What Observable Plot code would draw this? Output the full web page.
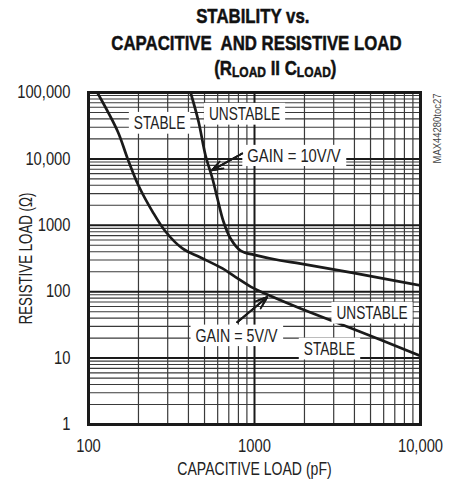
<!DOCTYPE html>
<html><head><meta charset="utf-8">
<script src="https://cdn.jsdelivr.net/npm/d3@7"></script>
<script src="https://cdn.jsdelivr.net/npm/@observablehq/plot@0.6"></script>
<style>
body{margin:0;background:#fff;}
#wrap{width:457px;background:#fff;}
#title{position:relative;height:80px;font-family:"Liberation Sans",Arial,sans-serif;font-weight:bold;font-size:21px;color:#111;-webkit-text-stroke:0.5px #111;}
#title div{position:absolute;width:457px;text-align:center;white-space:pre;line-height:1;}
#title div span.l{display:inline-block;transform:scaleX(0.8);transform-origin:center;}
#title .s{font-size:15px;position:relative;top:2px;}
</style></head><body>
<div id="wrap">
<div id="title">
<div style="top:5px;left:24px"><span class="l">STABILITY vs.</span></div>
<div style="top:32px;left:28px"><span class="l">CAPACITIVE  AND RESISTIVE LOAD</span></div>
<div style="top:57px;left:47px"><span class="l">(R<span class="s">LOAD</span> II C<span class="s">LOAD</span>)</span></div>
</div>
<div id="chart"></div>
</div>
<script>
// ---- data ----
const gain5Capacitance = [113, 150, 172, 200, 243, 291, 368, 470, 641, 747, 986, 1192, 1893, 4000, 10000];
const gain5Resistance  = [100000, 25900, 10100, 3980, 1610, 807, 448, 330, 224, 175, 113, 91, 56, 27, 10.8];
const gain10Capacitance = [412, 460, 507, 558, 598, 650, 717, 823, 1042, 1434, 1893, 4000, 10000];
const gain10Resistance  = [100000, 36600, 11250, 5070, 2530, 1140, 632, 417, 350, 295, 265, 190, 124];

const labelText = ["STABLE", "UNSTABLE", "GAIN = 10V/V", "UNSTABLE", "GAIN = 5V/V", "STABLE"];
const labelCapacitance = [268, 871, 1730, 5105, 779, 2830];
const labelResistance = [34700, 47450, 11250, 47.8, 21.9, 13.8];

const arrowFromC = [843, 787];
const arrowFromR = [12070, 34.7];
const arrowToC = [556, 1192];
const arrowToR = [6760, 82.7];

const xTicks = [100, 1000, 10000];
const xTickLabels = ["100", "1000", "10,000"];
const yTicks = [1, 10, 100, 1000, 10000, 100000];
const yTickLabels = ["1", "10", "100", "1000", "10,000", "100,000"];

const xTitle = "CAPACITIVE LOAD (pF)";
const yTitle = "RESISTIVE LOAD (Ω)";
const codeText = "MAX44280toc27";

// ---- tables ----
const gain5 = gain5Capacitance.map((c, i) => ({c, r: gain5Resistance[i]}));
const gain10 = gain10Capacitance.map((c, i) => ({c, r: gain10Resistance[i]}));
const labels = labelText.map((t, i) => ({t, c: labelCapacitance[i], r: labelResistance[i]}));
const arrows = arrowFromC.map((c, i) => ({c1: c, r1: arrowFromR[i], c2: arrowToC[i], r2: arrowToR[i]}));

// grid positions (log minor lines)
const mult = [2, 3, 4, 5, 6, 7, 8, 9];
const xMinor = [100, 1000].flatMap(d => mult.map(m => d * m));
const yMinor = [1, 10, 100, 1000, 10000].flatMap(d => mult.map(m => d * m));

const font = "'Liberation Sans',Arial,sans-serif";
const ink = "#1a1a1a";

const arrowOpts = {x1: "c1", y1: "r1", x2: "c2", y2: "r2", stroke: ink, strokeWidth: 1.8, headAngle: 40};

const svg = Plot.plot({
  width: 457, height: 406,
  marginTop: 12, marginBottom: 62, marginLeft: 88, marginRight: 37,
  style: {fontFamily: font, fontSize: "18px", color: "#222", background: "white", overflow: "visible"},
  x: {type: "log", domain: [100, 10000], label: null},
  y: {type: "log", domain: [1, 100000], label: null},
  marks: [
    Plot.ruleX(xMinor, {stroke: "#3a3a3a", strokeWidth: 1.2}),
    Plot.ruleY(yMinor, {stroke: "#3a3a3a", strokeWidth: 1.1}),
    Plot.ruleX(xTicks, {stroke: ink, strokeWidth: 2}),
    Plot.ruleY(yTicks, {stroke: ink, strokeWidth: 2}),
    Plot.line(gain5, {x: "c", y: "r", curve: "catmull-rom", stroke: ink, strokeWidth: 2.7, clip: true}),
    Plot.line(gain10, {x: "c", y: "r", curve: "catmull-rom", stroke: ink, strokeWidth: 2.7, clip: true}),
    Plot.text(labels, {x: "c", y: "r", text: "t", fontSize: 19, fill: "#222"}),
    Plot.arrow(arrows, {...arrowOpts, headLength: 11}),
    Plot.arrow(arrows, {...arrowOpts, headLength: 8}),
    Plot.arrow(arrows, {...arrowOpts, headLength: 5}),
    Plot.frame({stroke: ink, strokeWidth: 3}),
    Plot.axisX({ticks: xTicks, tickFormat: d => xTickLabels[xTicks.indexOf(d)], tickSize: 0, tickPadding: 15, fontSize: 18, fill: "#222"}),
    Plot.axisY({ticks: yTicks, tickFormat: d => yTickLabels[yTicks.indexOf(d)], tickSize: 0, tickPadding: 18, fontSize: 18, fill: "#222"}),
    Plot.text([xTitle], {text: d => d, frameAnchor: "bottom", dy: 50, fontSize: 19, fill: "#222"}),
    Plot.text([yTitle], {text: d => d, frameAnchor: "left", textAnchor: "middle", rotate: -90, dx: -63, fontSize: 19, fill: "#222"}),
    Plot.text([codeText], {text: d => d, frameAnchor: "top-right", textAnchor: "middle", dx: 13, dy: 36, rotate: -90, fontSize: 11, fill: "#444"})
  ]
});

document.getElementById("chart").appendChild(svg);

// condense texts (horizontal scale about each text's anchor) to mimic the condensed typeface
const condense = {
  "STABLE": 0.72, "UNSTABLE": 0.72, "GAIN = 10V/V": 0.78, "GAIN = 5V/V": 0.75,
  "CAPACITIVE LOAD (pF)": 0.74, "RESISTIVE LOAD (Ω)": 0.7, "MAX44280toc27": 0.86
};
svg.querySelectorAll("text").forEach(t => {
  const f = condense[t.textContent] ?? 0.82;
  const x0 = parseFloat(t.getAttribute("x")) || 0;
  const tr = t.getAttribute("transform") || "";
  t.setAttribute("transform", `${tr} translate(${x0},0) scale(${f},1) translate(${-x0},0)`.trim());
});

// white boxes behind in-plot labels
const labelSet = new Set(labelText);
const ns = "http://www.w3.org/2000/svg";
svg.querySelectorAll("text").forEach(t => {
  if (!labelSet.has(t.textContent)) return;
  const bb = t.getBBox();
  const f = condense[t.textContent] ?? 0.82;
  const pad = 5 / f;
  const r = document.createElementNS(ns, "rect");
  r.setAttribute("x", bb.x - pad);
  r.setAttribute("y", bb.y);
  r.setAttribute("width", bb.width + 2 * pad);
  r.setAttribute("height", bb.height);
  r.setAttribute("fill", "white");
  r.setAttribute("stroke", "none");
  const tr = t.getAttribute("transform");
  if (tr) r.setAttribute("transform", tr);
  t.parentNode.insertBefore(r, t);
});
</script>
</body></html>
